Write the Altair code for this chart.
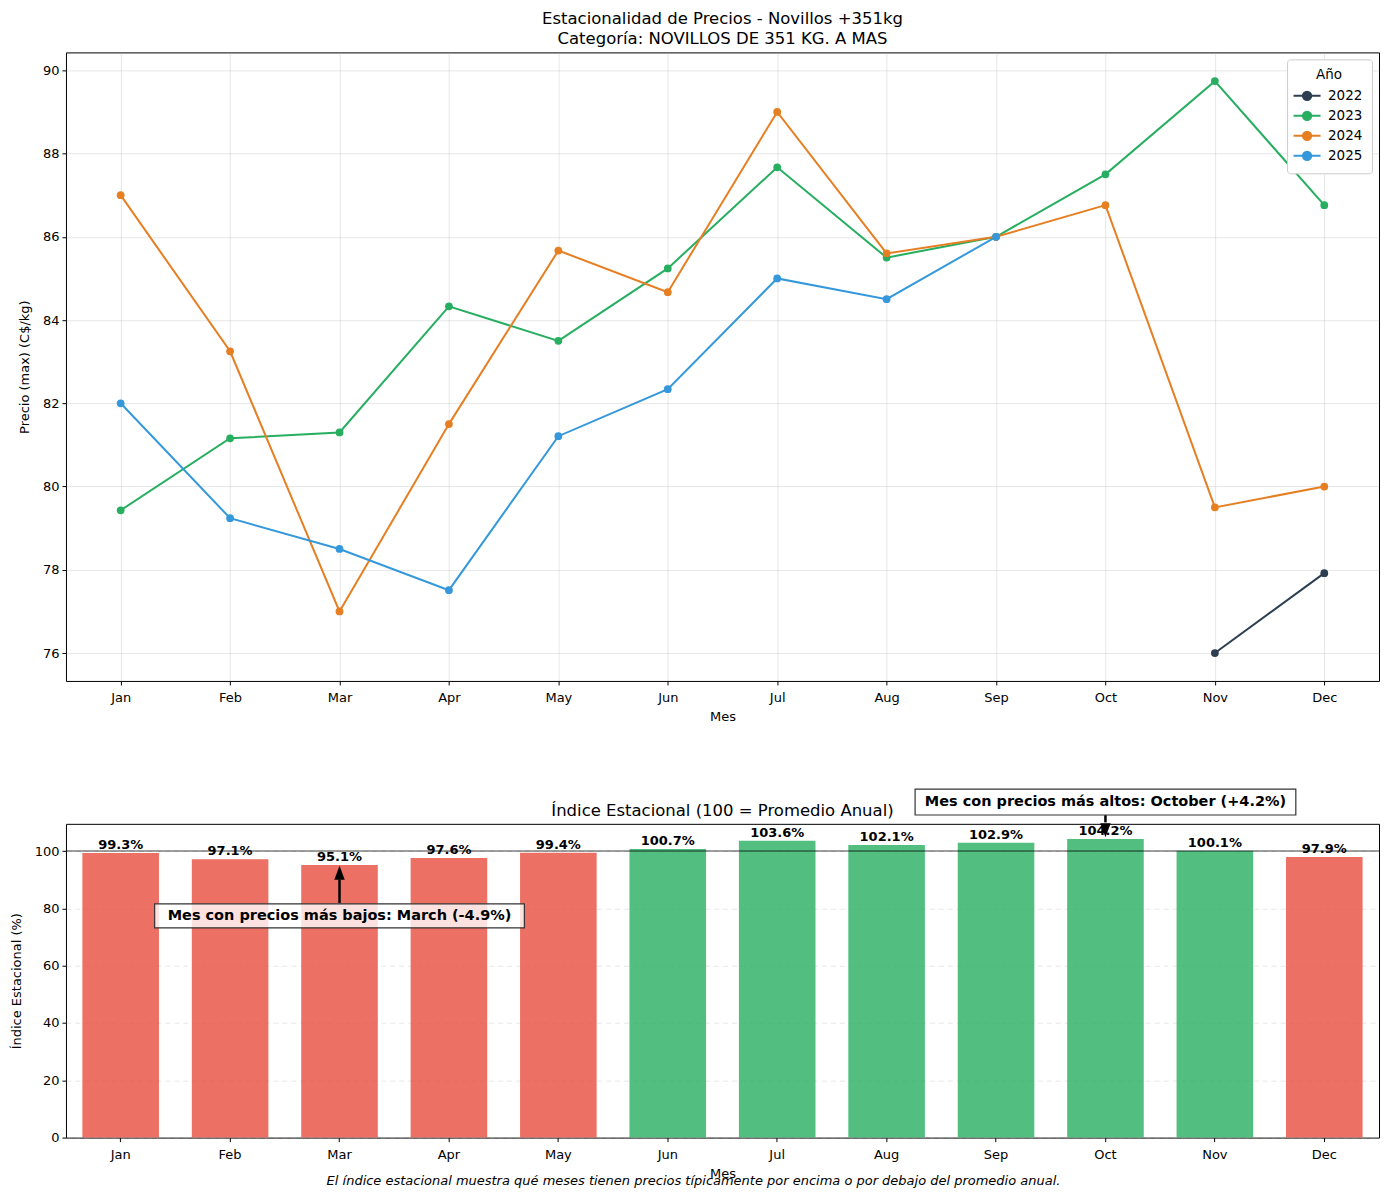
import altair as alt
import pandas as pd

months = ["Jan", "Feb", "Mar", "Apr", "May", "Jun", "Jul", "Aug", "Sep", "Oct", "Nov", "Dec"]
month_names = ["January", "February", "March", "April", "May", "June", "July",
               "August", "September", "October", "November", "December"]
years = ["2022", "2023", "2024", "2025"]
year_colors = ["#2c3e50", "#27ae60", "#e67e22", "#3498db"]

price_2022 = [None, None, None, None, None, None, None, None, None, None, 76.00, 77.92]
price_2023 = [79.43, 81.16, 81.30, 84.33, 83.50, 85.24, 87.67, 85.50, 86.00, 87.50, 89.74, 86.76]
price_2024 = [87.00, 83.25, 77.00, 81.50, 85.67, 84.67, 89.00, 85.60, 86.00, 86.76, 79.50, 80.00]
price_2025 = [82.00, 79.24, 78.50, 77.51, 81.21, 82.34, 85.00, 84.50, 86.00, None, None, None]

index_values = [99.3, 97.1, 95.1, 97.6, 99.4, 100.7, 103.6, 102.1, 102.9, 104.2, 100.1, 97.9]

title_top = ["Estacionalidad de Precios - Novillos +351kg", "Categoría: NOVILLOS DE 351 KG. A MAS"]
title_bottom = "Índice Estacional (100 = Promedio Anual)"
caption = "El índice estacional muestra qué meses tienen precios típicamente por encima o por debajo del promedio anual."

FONT = "DejaVu Sans"
W = 1314
H_TOP = 629
H_BOT = 314

# ---------- top chart data ----------
rows = []
for y, series in zip(years, [price_2022, price_2023, price_2024, price_2025]):
    for m, v in zip(months, series):
        if v is not None:
            rows.append({"Mes": m, "Año": y, "Precio": v})
df_price = pd.DataFrame(rows)

legend_path = "M-1.35,0L1.35,0M0.42,0A0.42,0.42,0,1,1,-0.42,0A0.42,0.42,0,1,1,0.42,0Z"

x_top = alt.X("Mes:N", sort=months,
              scale=alt.Scale(domain=months, padding=0.5),
              axis=alt.Axis(title="Mes", labelAngle=0, grid=True))
y_top = alt.Y("Precio:Q",
              scale=alt.Scale(domain=[75.33, 90.43], nice=False, zero=False),
              axis=alt.Axis(title="Precio (max) (C$/kg)", values=list(range(76, 91, 2)),
                            titlePadding=11))
color_top = alt.Color("Año:N", scale=alt.Scale(domain=years, range=year_colors),
                      legend=alt.Legend(title="Año", orient="top-right", offset=7,
                                        padding=9, strokeColor="#cccccc", fillColor="white",
                                        cornerRadius=3, titleFontWeight="normal",
                                        titleFontSize=13.5, labelFontSize=13.5,
                                        titleAnchor="middle", titlePadding=3,
                                        symbolType=legend_path, symbolSize=400,
                                        symbolStrokeWidth=2, rowPadding=0,
                                        labelOffset=10,
                                        labelFont=FONT, titleFont=FONT))

base_top = alt.Chart(df_price).encode(x=x_top, y=y_top, color=color_top)
lines = base_top.mark_line(strokeWidth=2)
pts = base_top.mark_point(filled=True, size=60, opacity=1)

top = alt.layer(lines, pts).properties(
    width=W, height=H_TOP,
    title=alt.TitleParams(title_top, fontSize=16.5, fontWeight="normal", font=FONT,
                          anchor="middle", frame="group", offset=5, lineHeight=20)
)

# ---------- bottom chart data ----------
df_idx = pd.DataFrame({
    "Mes": months,
    "Indice": index_values,
    "Grupo": ["Sobre" if v >= 100 else "Bajo" for v in index_values],
    "Etiqueta": [f"{v:.1f}%" for v in index_values],
})

imin = min(range(12), key=lambda i: index_values[i])
imax = max(range(12), key=lambda i: index_values[i])
vmin, vmax = index_values[imin], index_values[imax]

df_ann = pd.DataFrame({
    "Mes": [months[imin], months[imax]],
    "Texto": [f"Mes con precios más bajos: {month_names[imin]} ({vmin - 100:+.1f}%)",
              f"Mes con precios más altos: {month_names[imax]} ({vmax - 100:+.1f}%)"],
    "TextoY": [vmin - 17.7, vmax + 12.9],
    "ShaftA": [vmin - 13.2, vmax + 8.3],
    "ShaftB": [vmin - 5.0, vmax + 5.8],
    "HeadY": [vmin - 2.7, vmax + 3.1],
})

x_bot = alt.X("Mes:N", sort=months,
              scale=alt.Scale(domain=months, paddingInner=0.3, paddingOuter=0.15),
              axis=alt.Axis(title="Mes", labelAngle=0, grid=False))
y_scale_bot = alt.Scale(domain=[0, 109.5], nice=False)

bars = alt.Chart(df_idx).mark_bar(opacity=0.8).encode(
    x=x_bot,
    y=alt.Y("Indice:Q", scale=y_scale_bot,
            axis=alt.Axis(title="Índice Estacional (%)", values=[0, 20, 40, 60, 80, 100],
                          grid=True, gridDash=[5, 4], gridOpacity=0.3, titlePadding=11)),
    color=alt.Color("Grupo:N", scale=alt.Scale(domain=["Sobre", "Bajo"],
                                               range=["#27ae60", "#e74c3c"]), legend=None),
)

ref = alt.Chart(pd.DataFrame({"y": [100]})).mark_rule(color="black", opacity=0.5, strokeWidth=1.6).encode(
    y=alt.Y("y:Q", scale=y_scale_bot)
)

labels = alt.Chart(df_idx).mark_text(fontWeight="bold", fontSize=13, font=FONT,
                                     baseline="bottom", dy=-1, color="black").encode(
    x=alt.X("Mes:N", sort=months),
    y=alt.Y("Indice:Q", scale=y_scale_bot),
    text="Etiqueta:N",
)

box_low = alt.Chart(df_ann.iloc[[0]]).mark_point(
    shape="M-1,-0.065L1,-0.065L1,0.065L-1,0.065Z", filled=True, fill="white",
    fillOpacity=0.8, stroke="#333333", strokeWidth=1.2, size=370 ** 2, opacity=1
).encode(x=alt.X("Mes:N", sort=months), y=alt.Y("TextoY:Q", scale=y_scale_bot))

box_high = alt.Chart(df_ann.iloc[[1]]).mark_point(
    shape="M-1,-0.068L1,-0.068L1,0.068L-1,0.068Z", filled=True, fill="white",
    fillOpacity=0.8, stroke="#333333", strokeWidth=1.2, size=381 ** 2, opacity=1
).encode(x=alt.X("Mes:N", sort=months), y=alt.Y("TextoY:Q", scale=y_scale_bot))

ann_text = alt.Chart(df_ann).mark_text(fontWeight="bold", fontSize=14.5, font=FONT,
                                       color="black").encode(
    x=alt.X("Mes:N", sort=months),
    y=alt.Y("TextoY:Q", scale=y_scale_bot),
    text="Texto:N",
)

shaft = alt.Chart(df_ann).mark_rule(color="black", strokeWidth=2.5).encode(
    x=alt.X("Mes:N", sort=months),
    y=alt.Y("ShaftA:Q", scale=y_scale_bot),
    y2="ShaftB:Q",
)

head_up = alt.Chart(df_ann.iloc[[0]]).mark_point(
    shape="M0,-1L0.75,1L-0.75,1Z", filled=True, color="black", size=196, opacity=1
).encode(x=alt.X("Mes:N", sort=months), y=alt.Y("HeadY:Q", scale=y_scale_bot))

head_down = alt.Chart(df_ann.iloc[[1]]).mark_point(
    shape="M0,1L0.75,-1L-0.75,-1Z", filled=True, color="black", size=196, opacity=1
).encode(x=alt.X("Mes:N", sort=months), y=alt.Y("HeadY:Q", scale=y_scale_bot))

cap = alt.Chart(pd.DataFrame({"t": [caption]})).mark_text(
    fontStyle="italic", fontSize=13, font=FONT, align="center", baseline="middle", color="black"
).encode(x=alt.value(628), y=alt.value(43 + H_BOT), text="t:N")

bottom = alt.layer(bars, ref, labels, box_low, box_high, shaft, head_up, head_down,
                   ann_text, cap).properties(
    width=W, height=H_BOT,
    title=alt.TitleParams(title_bottom, fontSize=16.5, fontWeight="normal", font=FONT,
                          anchor="middle", frame="group", offset=-33)
)

chart = alt.vconcat(top, bottom, spacing=61).resolve_scale(
    color="independent"
).properties(
    background="white",
    padding={"top": 2, "left": 1, "right": 0, "bottom": 2},
).configure_view(
    stroke="black", strokeWidth=1
).configure_axis(
    labelFont=FONT, titleFont=FONT, labelFontSize=13, titleFontSize=13,
    titleFontWeight="normal", labelColor="black", titleColor="black",
    domain=False, tickColor="black", tickSize=4, labelPadding=3,
    gridColor="#b0b0b0", gridOpacity=0.3,
).configure_axisX(grid=False, labelPadding=7, titlePadding=6)

chart.save("out.html", embed_options={"renderer": "svg", "actions": False})
